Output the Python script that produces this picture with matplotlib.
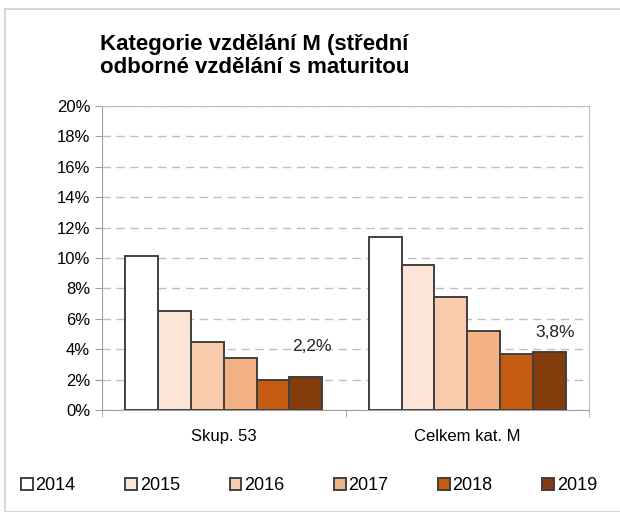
import matplotlib.pyplot as plt
import numpy as np
from matplotlib.patches import Rectangle
from matplotlib.ticker import FuncFormatter

# data
kategorie = ['Skup. 53', 'Celkem kat. M']
roky = ['2014', '2015', '2016', '2017', '2018', '2019']
skup53 = [10.1, 6.5, 4.45, 3.4, 1.95, 2.2]
celkem = [11.4, 9.55, 7.45, 5.2, 3.7, 3.8]
popisky = ['2,2%', '3,8%']
barvy = ['#FFFFFF', '#FCE4D6', '#F8CBAD', '#F4B183', '#C55A11', '#843C0C']

plt.rcParams['font.family'] = ['Liberation Sans', 'DejaVu Sans']

fig = plt.figure(figsize=(6.2, 5.12), dpi=100)
fig.patches.append(Rectangle((5/620, 0), 1, 1 - 9/512, transform=fig.transFigure,
                             fill=False, edgecolor='#D0D0D0', linewidth=1.2))
ax = fig.add_axes([102/620, 102/512, 487/620, 304/512])

x = np.arange(len(kategorie))
w = 0.135
hodnoty = np.array([skup53, celkem])
for i, rok in enumerate(roky):
    ax.bar(x + (i - 2.5)*w, hodnoty[:, i], w, color=barvy[i], edgecolor='#404040',
           linewidth=1.4, label=rok, zorder=3)

# popisky poslednich sloupcu
posun = [16, 9]
for j in range(len(kategorie)):
    ax.annotate(popisky[j], (x[j] + 2.5*w, hodnoty[j, -1]), xytext=(4, posun[j]),
                textcoords='offset points', ha='center', va='bottom', fontsize=12.5, color='#222222')

ax.set_xlim(-0.5, 1.5)
ax.set_ylim(0, 20)
ax.set_yticks(np.arange(0, 21, 2))
ax.yaxis.set_major_formatter(FuncFormatter(lambda v, p: f'{v:.0f}%'))
ax.yaxis.grid(True, linestyle=(0, (6, 4)), color='#BFBFBF', linewidth=1, zorder=0)
ax.set_xticks(x)
ax.set_xticklabels(kategorie, fontsize=12)
ax.set_xticks([-0.5, 0.5, 1.5], minor=True)
ax.tick_params(axis='x', which='major', length=0, pad=14)
ax.tick_params(axis='x', which='minor', length=5, color='#A0A0A0')
ax.tick_params(axis='y', length=5, color='#A0A0A0', labelsize=12)
for s in ax.spines.values():
    s.set_color('#BFBFBF')
ax.spines['left'].set_color('#A0A0A0')
ax.spines['bottom'].set_color('#A0A0A0')

fig.text(100/620, 1 - 56/512, 'Kategorie vzdělání M (střední\nodborné vzdělání s maturitou',
         ha='left', va='center', fontsize=16, fontweight='bold', linespacing=1.15)

ax.legend(loc='center', bbox_to_anchor=(0.425, -0.25), ncol=6, frameon=False,
          fontsize=13, handlelength=0.65, handleheight=0.65, handletextpad=0.15,
          columnspacing=2.75)

plt.savefig('out.png', dpi=100)
